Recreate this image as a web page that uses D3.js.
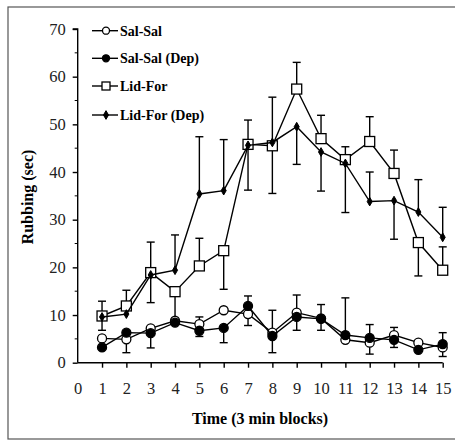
<!DOCTYPE html>
<html>
<head>
<meta charset="utf-8">
<script src="https://cdn.jsdelivr.net/npm/d3@7"></script>
<style>
  body { margin: 0; background: #fff; }
  svg { display: block; }
  svg text { font-family: "Liberation Serif", "Times New Roman", serif; }
</style>
</head>
<body>
<svg id="chart" width="455" height="441"></svg>
<script>
// time blocks
const blocks = [1, 2, 3, 4, 5, 6, 7, 8, 9, 10, 11, 12, 13, 14, 15];
const xTicks = [0, 1, 2, 3, 4, 5, 6, 7, 8, 9, 10, 11, 12, 13, 14, 15];
const yTicks = [0, 10, 20, 30, 40, 50, 60, 70];

// mean rubbing (sec)
const salSal    = [5.1, 4.9, 7.2, 8.8, 8.1, 11.0, 10.2, 6.3, 10.5, 9.3, 4.8, 4.2, 5.8, 4.2, 3.2];
const salSalDep = [3.2, 6.3, 6.2, 8.4, 6.7, 7.3, 11.9, 5.6, 9.6, 9.2, 5.8, 5.2, 4.8, 2.7, 3.9];
const lidFor    = [9.8, 11.9, 18.9, 14.9, 20.3, 23.5, 45.8, 45.5, 57.4, 47.0, 42.6, 46.4, 39.7, 25.2, 19.4];
const lidForDep = [9.6, 10.2, 18.4, 19.4, 35.4, 36.1, 45.6, 46.2, 49.5, 44.2, 41.8, 33.8, 34.0, 31.6, 26.3];

// SEM, sign = side the bar is drawn on (+ up, - down, 0 none)
const salSalErr    = [0, -2.8, 0, 0, 1.5, 0, -2.4, 4.7, 3.7, 2.9, 0, -2.4, 1.6, 0, -1.9];
const salSalDepErr = [0, 0, -3.1, 0, -1.2, -3.1, 2.1, -3.5, -2.8, -2.4, 7.8, 2.8, -1.6, 0, 2.4];
const lidForErr    = [3.1, 3.3, 6.4, -5.8, 5.8, -8.1, 5.1, -10, 5.6, 4.9, 2.7, 5.2, 4.9, -7.0, 4.9];
const lidForDepErr = [-2.8, 0, -5.8, 7.4, 12.0, 10.7, -9.4, 9.5, -7.9, -8.2, -10.3, 6.2, -8.1, 6.8, 6.3];

const series = [
  {name: "Sal-Sal", values: salSal, err: salSalErr, shape: "circle", fill: "#fff"},
  {name: "Sal-Sal (Dep)", values: salSalDep, err: salSalDepErr, shape: "circle", fill: "#000"},
  {name: "Lid-For", values: lidFor, err: lidForErr, shape: "square", fill: "#fff"},
  {name: "Lid-For (Dep)", values: lidForDep, err: lidForDepErr, shape: "diamond", fill: "#000"}
];

const svg = d3.select("#chart");

// frame around the figure
svg.append("rect")
  .attr("x", 8).attr("y", 7)
  .attr("width", 460).attr("height", 432)
  .attr("fill", "none")
  .attr("stroke", "#555")
  .attr("stroke-width", 1.2);

const x = d3.scaleLinear().domain([0, 15]).range([77.7, 442.7]);
const y = d3.scaleLinear().domain([0, 70]).range([362.7, 29]);

// y axis
const yAxis = svg.append("g").attr("transform", `translate(${x(0)},0)`);
yAxis.call(d3.axisLeft(y).tickValues(yTicks).tickSize(5).tickPadding(7))
  .call(g => g.select(".domain").attr("d", `M-5,${y(70)}H0V${y(0)}`));
yAxis.selectAll(".minor")
  .data(d3.range(5, 70, 10))
  .enter().append("line")
  .attr("class", "minor")
  .attr("x1", -3).attr("x2", 0)
  .attr("y1", d => y(d)).attr("y2", d => y(d))
  .attr("stroke", "#000");

// x axis
const xAxis = svg.append("g").attr("transform", `translate(0,${y(0)})`);
xAxis.call(d3.axisBottom(x).tickValues(xTicks).tickSize(5).tickPadding(15))
  .call(g => g.select(".domain").attr("d", `M${x(0)},0H${x(15)}`))
  .call(g => g.selectAll(".tick").filter(d => d === 0).select("line").remove());

svg.selectAll(".domain, .tick line").attr("stroke", "#000").attr("stroke-width", 1.4);
yAxis.attr("font-family", null);
xAxis.attr("font-family", null);
svg.selectAll(".tick text")
  .attr("font-size", 16.5)
  .attr("fill", "#222");

// axis titles
svg.append("text")
  .attr("transform", `translate(33,197) rotate(-90)`)
  .attr("text-anchor", "middle")
  .attr("font-weight", "bold")
  .attr("font-size", 16)
  .text("Rubbing (sec)");

svg.append("text")
  .attr("x", 260).attr("y", 424)
  .attr("text-anchor", "middle")
  .attr("font-weight", "bold")
  .attr("font-size", 16)
  .text("Time (3 min blocks)");

function marker(g, s) {
  if (s.shape === "circle") {
    g.append("circle").attr("r", 4.5)
      .attr("fill", s.fill).attr("stroke", "#000").attr("stroke-width", 1.3);
  } else if (s.shape === "square") {
    g.append("rect").attr("x", -5).attr("y", -5).attr("width", 10).attr("height", 10)
      .attr("fill", s.fill).attr("stroke", "#000").attr("stroke-width", 1.3);
  } else {
    g.append("path").attr("d", d3.symbol(d3.symbolDiamond, 22)())
      .attr("fill", s.fill).attr("stroke", "#000").attr("stroke-width", 1);
  }
}

const line = d3.line().x((d, i) => x(blocks[i])).y(d => y(d));

// error bars first
series.forEach(s => {
  const g = svg.append("g");
  s.err.forEach((e, i) => {
    if (e === 0) return;
    const cx = x(blocks[i]);
    const y0 = y(s.values[i]);
    const y1 = y(s.values[i] + e);
    g.append("line").attr("x1", cx).attr("x2", cx).attr("y1", y0).attr("y2", y1)
      .attr("stroke", "#000").attr("stroke-width", 1.4);
    g.append("line").attr("x1", cx - 4).attr("x2", cx + 4).attr("y1", y1).attr("y2", y1)
      .attr("stroke", "#000").attr("stroke-width", 1.4);
  });
});

// lines and markers
series.forEach(s => {
  svg.append("path")
    .attr("d", line(s.values))
    .attr("fill", "none")
    .attr("stroke", "#000")
    .attr("stroke-width", 1.4);
  svg.append("g").selectAll("g")
    .data(s.values)
    .enter().append("g")
    .attr("transform", (d, i) => `translate(${x(blocks[i])},${y(d)})`)
    .each(function () { marker(d3.select(this), s); });
});

// legend
const legend = svg.append("g");
series.forEach((s, i) => {
  const ly = [30.7, 58.3, 86, 115][i];
  const row = legend.append("g").attr("transform", `translate(92,${ly})`);
  row.append("line").attr("x1", 0).attr("x2", 26).attr("y1", 0).attr("y2", 0)
    .attr("stroke", "#000").attr("stroke-width", 1.4);
  const m = row.append("g").attr("transform", "translate(14,0)");
  marker(m, s);
  m.selectAll("circle").attr("r", 3.5);
  m.selectAll("rect").attr("x", -4).attr("y", -4).attr("width", 8).attr("height", 8);
  row.append("text")
    .attr("x", 28).attr("y", 0).attr("dy", "0.35em")
    .attr("font-weight", "bold")
    .attr("font-size", 14)
    .text(s.name);
});
</script>
</body>
</html>
